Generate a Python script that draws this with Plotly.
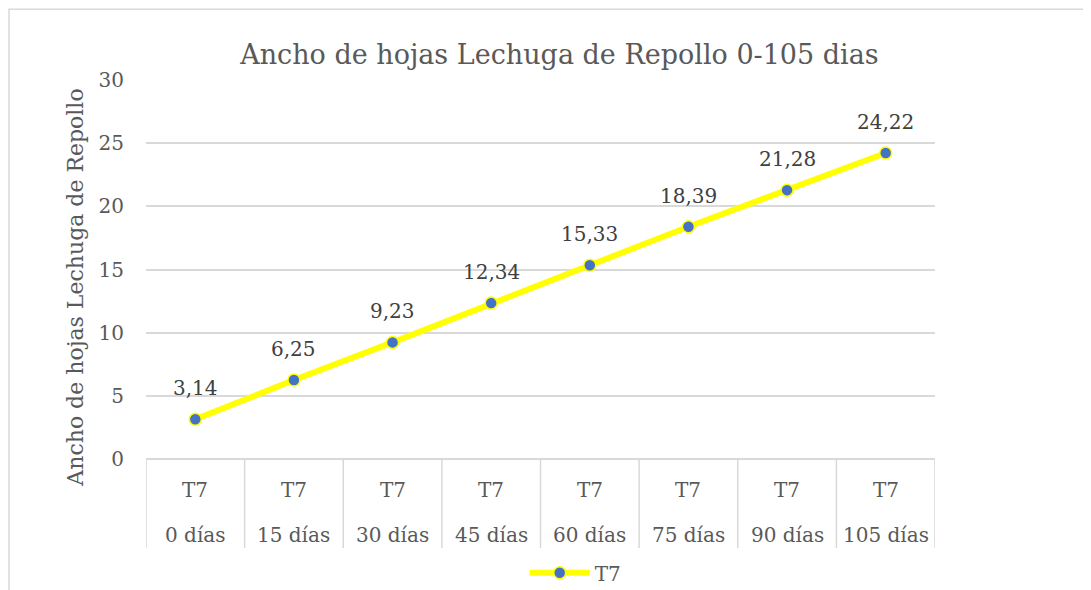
import plotly.graph_objects as go

categories = ["0 días", "15 días", "30 días", "45 días", "60 días", "75 días", "90 días", "105 días"]
group_labels = ["T7"] * 8
values = [3.14, 6.25, 9.23, 12.34, 15.33, 18.39, 21.28, 24.22]
series_name = "T7"
title_text = "Ancho de hojas Lechuga de Repollo 0-105 dias"
y_title = "Ancho de hojas Lechuga de Repollo"
y_ticks = [0, 5, 10, 15, 20, 25, 30]

FONT = "DejaVu Serif"
GRAY = "#595959"
GRID = "#D9D9D9"
FS = 20

x_idx = list(range(len(categories)))

fig = go.Figure()
fig.add_trace(go.Scatter(
    x=x_idx, y=values, mode="lines+markers", name=series_name,
    line=dict(color="#FFFF00", width=6),
    marker=dict(size=12, color="#4472C4", line=dict(color="#FFFF00", width=1.5)),
))

annotations = []
for i, v in zip(x_idx, values):
    annotations.append(dict(
        x=i, y=v, xref="x", yref="y", text=f"{v:.2f}".replace(".", ","),
        showarrow=False, yshift=31, font=dict(family=FONT, size=FS, color="#404040")))
for i, (g, c) in enumerate(zip(group_labels, categories)):
    annotations.append(dict(x=i, y=0, xref="x", yref="paper", text=g, showarrow=False,
                            yanchor="middle", yshift=-31, font=dict(family=FONT, size=FS, color=GRAY)))
    annotations.append(dict(x=i, y=0, xref="x", yref="paper", text=c, showarrow=False,
                            yanchor="middle", yshift=-76, font=dict(family=FONT, size=FS, color=GRAY)))
annotations.append(dict(x=-0.0905, y=0.451, xref="paper", yref="paper", text=y_title,
                        textangle=-90, showarrow=False, xanchor="center", yanchor="middle",
                        font=dict(family=FONT, size=22, color=GRAY)))

shapes = []
for k in range(len(categories) + 1):
    shapes.append(dict(type="line", xref="x", yref="paper", x0=k - 0.5, x1=k - 0.5,
                       ysizemode="pixel", yanchor=0, y0=0, y1=-89,
                       line=dict(color=GRID, width=1.5)))
shapes.append(dict(type="rect", xref="paper", yref="paper", x0=-0.1736, x1=1.25,
                   y0=-0.4, y1=1.187, line=dict(color=GRID, width=1.5),
                   fillcolor="rgba(0,0,0,0)", layer="below"))

fig.update_layout(
    width=1083, height=582,
    margin=dict(l=138, r=156, t=72, b=131, autoexpand=False),
    paper_bgcolor="white", plot_bgcolor="white",
    font=dict(family=FONT, size=FS, color=GRAY),
    title=dict(text=title_text, x=0.524, xref="paper", xanchor="center",
               y=1 - 47 / 582, yanchor="middle",
               font=dict(family=FONT, size=27, color=GRAY)),
    xaxis=dict(range=[-0.5, len(categories) - 0.5], showticklabels=False, showgrid=False,
               zeroline=False, showline=False, ticks=""),
    yaxis=dict(range=[0, 30], tickvals=y_ticks, showgrid=True, gridcolor=GRID, gridwidth=1.5,
               zeroline=True, zerolinecolor=GRID, zerolinewidth=1.5, showline=False,
               ticks="outside", ticklen=17, tickcolor="rgba(0,0,0,0)",
               tickfont=dict(family=FONT, size=FS, color=GRAY)),
    showlegend=True,
    legend=dict(orientation="h", x=0.48, xanchor="left", y=-0.30, yanchor="middle",
                font=dict(family=FONT, size=FS, color=GRAY), bgcolor="rgba(0,0,0,0)",
                itemwidth=60),
    annotations=annotations,
    shapes=shapes,
)

fig.write_html("out.html")
